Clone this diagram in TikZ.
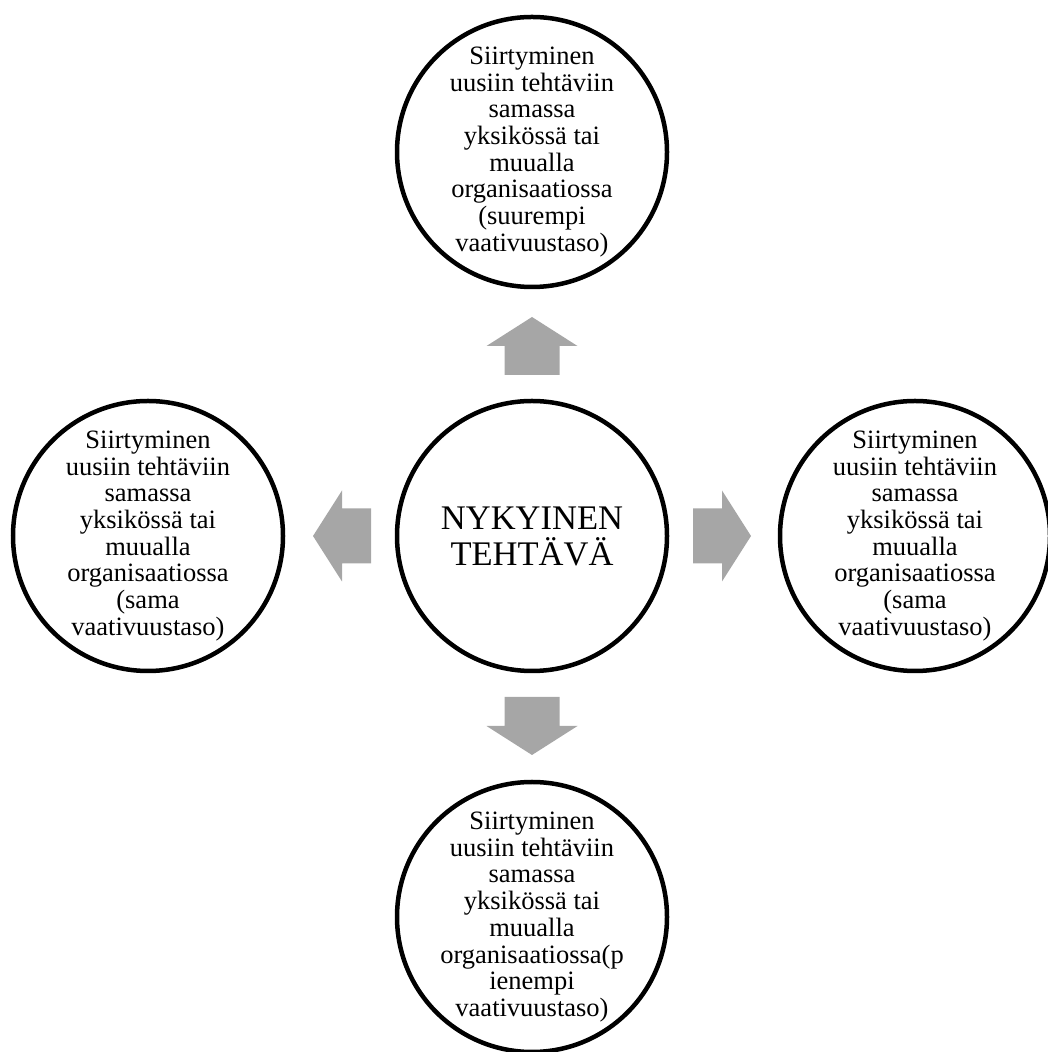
\documentclass[tikz,border=0pt]{standalone}
\usepackage{fontspec}
\setmainfont{Liberation Serif}
\definecolor{arrowgray}{HTML}{A6A6A6}
\tikzset{
  bubble/.style={circle, draw=black, line width=4.5pt, fill=white, minimum size=270pt, inner sep=-10pt, align=center, font=\fontsize{26.5}{26.7}\selectfont},
  hub/.style={bubble, font=\fontsize{34.5}{36}\selectfont},
  blockarrow/.style={fill=arrowgray, draw=none}
}
\begin{document}
\begin{tikzpicture}[x=1pt,y=1pt]
\useasboundingbox (0,0) rectangle (1048,1052);
\clip (0,0) rectangle (1048,1052);
\node[hub] (c) at (532,516) {NYKYINEN\\TEHTÄVÄ};
\node[bubble] (t) at (532,900) {Siirtyminen\\uusiin tehtäviin\\samassa\\yksikössä tai\\muualla\\organisaatiossa\\(suurempi\\vaativuustaso)};
\node[bubble] (l) at (148,516) {Siirtyminen\\uusiin tehtäviin\\samassa\\yksikössä tai\\muualla\\organisaatiossa\\(sama\\vaativuustaso)};
\node[bubble] (r) at (915,516) {Siirtyminen\\uusiin tehtäviin\\samassa\\yksikössä tai\\muualla\\organisaatiossa\\(sama\\vaativuustaso)};
\node[bubble] (b) at (532,135) {Siirtyminen\\uusiin tehtäviin\\samassa\\yksikössä tai\\muualla\\organisaatiossa(p\\ienempi\\vaativuustaso)};
\foreach \ang in {0,90,180,270}{
  \fill[blockarrow, shift={(c.center)}, rotate=\ang]
    (161,-27.5) -- (190,-27.5) -- (190,-45.5) -- (219,0) -- (190,45.5) -- (190,27.5) -- (161,27.5) -- cycle;
}
\end{tikzpicture}
\end{document}
